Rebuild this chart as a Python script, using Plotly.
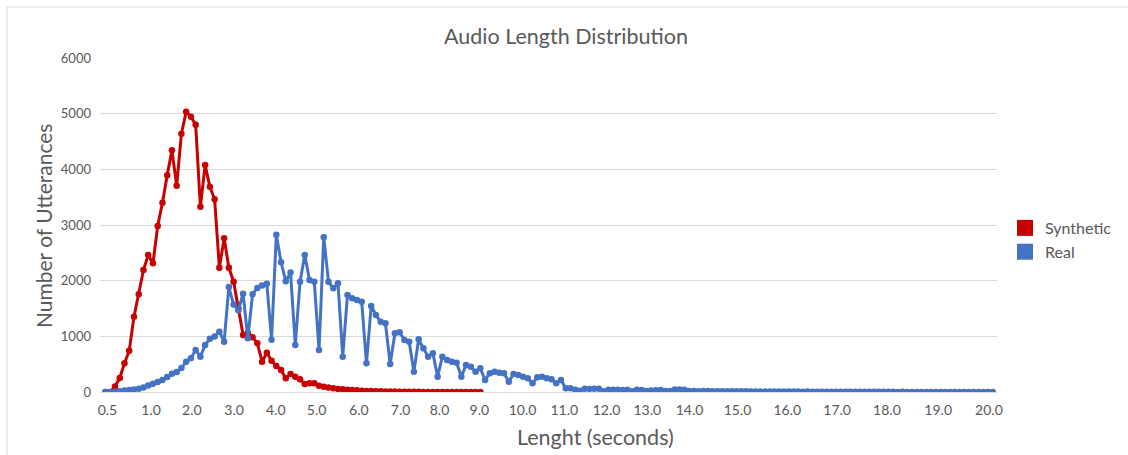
import plotly.graph_objects as go

# ---- data ----
synthetic = [0, 0, 100, 250, 515, 742, 1353, 1755, 2191, 2461,
             2311, 2982, 3400, 3893, 4341, 3706, 4640, 5035, 4946, 4802,
             3329, 4078, 3688, 3461, 2233, 2761, 2233, 1981, 1503, 1024,
             1054, 982, 874, 544, 706, 562, 467, 395, 246, 323,
             275, 228, 144, 156, 156, 114, 96, 80, 66, 54,
             48, 40, 36, 30, 24, 20, 18, 15, 12, 10,
             8, 7, 6, 5, 4, 3, 3, 2, 2, 2,
             1, 1, 1, 1, 1, 0, 0, 0, 0, 0]

real = [0, 0, 5, 15, 25, 35, 45, 60, 80, 115,
        150, 180, 215, 270, 330, 360, 430, 545, 605, 755,
        635, 845, 955, 995, 1084, 904, 1885, 1570, 1470, 1765,
        965, 1758, 1870, 1915, 1943, 940, 2826, 2332, 1988, 2146,
        844, 1982, 2461, 2012, 1982, 755, 2779, 1982, 1862, 1952,
        635, 1742, 1683, 1653, 1622, 515, 1545, 1383, 1263, 1234,
        503, 1054, 1075, 934, 904, 365, 946, 785, 634, 695,
        275, 634, 575, 545, 527, 275, 485, 455, 365, 425,
        216, 335, 365, 347, 335, 185, 323, 305, 275, 245,
        156, 264, 275, 245, 228, 156, 216, 66, 66, 40,
        24, 60, 55, 60, 60, 15, 40, 40, 40, 35,
        40, 15, 40, 35, 20, 25, 30, 35, 20, 20,
        45, 45, 40, 20, 20, 15, 20, 20, 15, 15,
        15, 15, 15, 12, 12, 12, 10, 10, 10, 10,
        10, 8, 9, 8, 7, 8, 7, 6, 7, 6,
        6, 5, 6, 5, 5, 5, 4, 5, 4, 4,
        4, 3, 4, 3, 3, 3, 3, 2, 3, 2,
        2, 2, 2, 2, 2, 1, 2, 1, 1, 1,
        1, 1, 1, 1, 1, 1, 1, 1]

# category index at which each x label sits
tick_labels = ["0.5", "1.0", "2.0", "3.0", "4.0", "5.0", "6.0", "7.0", "8.0", "9.0",
               "10.0", "11.0", "12.0", "13.0", "14.0", "15.0", "16.0", "17.0",
               "18.0", "19.0", "20.0"]
tick_cats = [0.4, 9.6, 18.2, 27.1, 35.9, 44.5, 53.4, 62.2, 70.4, 78.8,
             87.9, 96.7, 105.6, 114.2, 123.1, 133.2, 143.7, 154.2,
             164.7, 175.5, 186.2]

y_ticks = [0, 1000, 2000, 3000, 4000, 5000, 6000]

RED = "#C80000"
BLUE = "#4472C4"
GREY = "#595959"
FONT = "Lato"

fig = go.Figure()
fig.add_trace(go.Scatter(
    x=list(range(len(synthetic))), y=synthetic, mode="lines+markers",
    line=dict(color=RED, width=3), marker=dict(color=RED, size=6.5),
    showlegend=False, name="Synthetic"))
fig.add_trace(go.Scatter(
    x=list(range(len(real))), y=real, mode="lines+markers",
    line=dict(color=BLUE, width=3), marker=dict(color=BLUE, size=6.5),
    showlegend=False, name="Real"))
# legend swatches
fig.add_trace(go.Scatter(x=[None], y=[None], mode="markers", name="Synthetic",
                         marker=dict(symbol="square", color=RED, size=18)))
fig.add_trace(go.Scatter(x=[None], y=[None], mode="markers", name="Real",
                         marker=dict(symbol="square", color=BLUE, size=18)))

W, H = 1128, 455
L, R, T, B = 100, 130, 58, 63
pw, ph = W - L - R, H - T - B


def px(xp):
    return (xp - L) / pw


def py(yp):
    return (H - B - yp) / ph


fig.update_layout(
    width=W, height=H,
    margin=dict(l=L, r=R, t=T, b=B),
    paper_bgcolor="white", plot_bgcolor="white",
    font=dict(family=FONT, color=GREY),
    legend=dict(x=px(1005), y=py(240), xanchor="left", yanchor="middle",
                font=dict(size=16, color=GREY, family=FONT), tracegroupgap=0),
    annotations=[
        dict(text="Audio Length Distribution", xref="paper", yref="paper",
             x=px(567), y=py(36), showarrow=False, xanchor="center", yanchor="middle",
             font=dict(size=21.5, color=GREY, family=FONT)),
        dict(text="Number of Utterances", xref="paper", yref="paper",
             x=px(43), y=py(226), showarrow=False, textangle=-90,
             xanchor="center", yanchor="middle",
             font=dict(size=21, color=GREY, family=FONT)),
        dict(text="Lenght (seconds)", xref="paper", yref="paper",
             x=px(596), y=py(437), showarrow=False, xanchor="center", yanchor="middle",
             font=dict(size=21.5, color=GREY, family=FONT)),
    ],
    shapes=[dict(type="rect", xref="paper", yref="paper",
                 x0=px(7), x1=px(1160), y0=py(490), y1=py(7),
                 line=dict(color="#D9D9D9", width=1), fillcolor="rgba(0,0,0,0)",
                 layer="below")],
)

fig.update_xaxes(
    range=[-1.16, 187.9], tickmode="array", tickvals=tick_cats, ticktext=tick_labels,
    showgrid=False, zeroline=False, showline=True, linecolor="#D9D9D9", linewidth=1,
    ticks="", tickfont=dict(size=14, color=GREY, family=FONT), ticklabelstandoff=5)
fig.update_yaxes(
    range=[0, 6000], tickmode="array", tickvals=y_ticks,
    ticktext=[str(v) for v in y_ticks],
    showgrid=True, gridcolor="#D9D9D9", gridwidth=1, zeroline=False, showline=False,
    ticks="", tickfont=dict(size=13, color=GREY, family=FONT), ticklabelstandoff=8)

fig.write_html("out.html")
